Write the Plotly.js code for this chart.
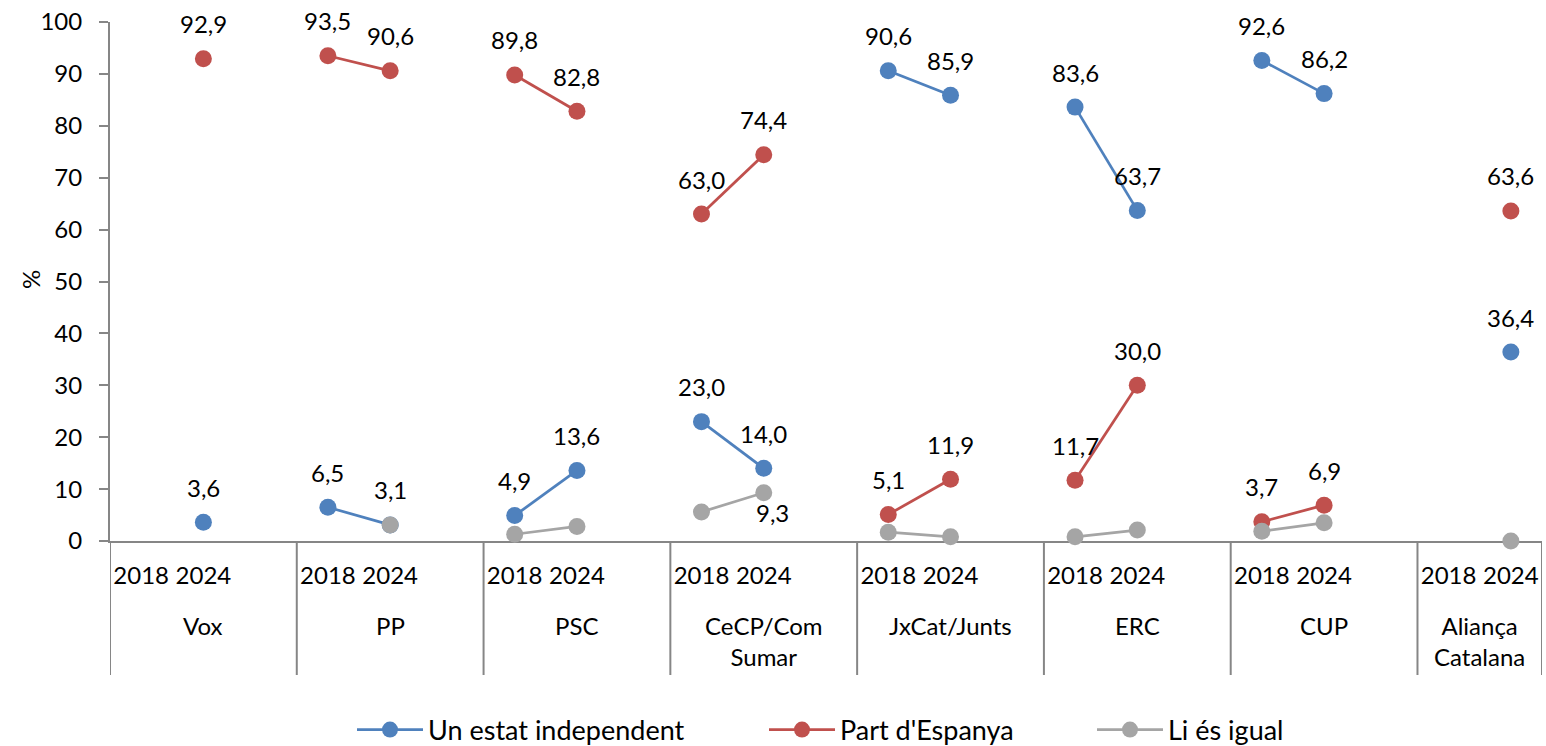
<!DOCTYPE html>
<html>
<head>
<meta charset="utf-8">
<script src="https://cdn.plot.ly/plotly-3.0.1.min.js"></script>
<style>
html,body{margin:0;padding:0;background:#fff;}
#chart{width:1546px;height:746px;}
</style>
</head>
<body>
<div id="chart"></div>
<script>
// ---- data ----
var parties = ["Vox", "PP", "PSC", "CeCP/Com<br>Sumar", "JxCat/Junts", "ERC", "CUP", "Aliança<br>Catalana"];
var years = ["2018", "2024"];
// values per party, ordered [2018, 2024]
var independent = [null, 3.6, 6.5, 3.1, 4.9, 13.6, 23.0, 14.0, 90.6, 85.9, 83.6, 63.7, 92.6, 86.2, null, 36.4];
var espanya     = [null, 92.9, 93.5, 90.6, 89.8, 82.8, 63.0, 74.4, 5.1, 11.9, 11.7, 30.0, 3.7, 6.9, null, 63.6];
var igual       = [null, null, null, 3.1, 1.3, 2.8, 5.6, 9.3, 1.7, 0.8, 0.8, 2.1, 1.9, 3.5, null, 0.0];
var igualLabelled = [7]; // only "9,3" is labelled
var seriesNames = ["Un estat independent", "Part d'Espanya", "Li és igual"];
var yTitle = "%";
var colors = ["#4F81BD", "#C0504D", "#A5A5A5"];

// ---- build category positions: 2018, 2024, blank slot per party ----
function buildXY(vals) {
  var xs = [], ys = [];
  for (var p = 0; p < parties.length; p++) {
    for (var k = 0; k < years.length; k++) {
      xs.push(3 * p + k);
      ys.push(vals[p * years.length + k]);
    }
    if (p < parties.length - 1) { xs.push(3 * p + 2); ys.push(null); }
  }
  return {x: xs, y: ys};
}
function posOf(idx) {
  var p = Math.floor(idx / years.length), k = idx % years.length;
  return 3 * p + k;
}
function fmt(v) { return v.toFixed(1).replace('.', ','); }

var FONT = "Lato, 'Open Sans', sans-serif";
var L = 110, R = 1542, T = 22, B = 541, W = 1546, H = 746;
var plotW = R - L, plotH = B - T;
function px2paperX(px) { return (px - L) / plotW; }
function px2paperY(py) { return (B - py) / plotH; }

var legendNames = ['legend', 'legend2', 'legend3'];
var legendStartPx = [352, 764, 1092];

var allVals = [independent, espanya, igual];
var traces = allVals.map(function (vals, s) {
  var xy = buildXY(vals);
  return {
    type: 'scatter', mode: 'lines+markers', name: seriesNames[s],
    x: xy.x, y: xy.y, connectgaps: false, cliponaxis: false,
    line: {color: colors[s], width: 2.75},
    marker: {color: colors[s], size: 17},
    legend: legendNames[s],
    hoverinfo: 'skip'
  };
});

// divider positions (category units)
var dividers = [];
for (var p = 0; p < parties.length; p++) dividers.push(3 * p - 0.5);
dividers.push(3 * (parties.length - 1) + 1.5);

var annotations = [];
[independent, espanya].forEach(function (vals) {
  vals.forEach(function (v, i) {
    if (v === null) return;
    annotations.push({x: posOf(i), y: v, xref: 'x', yref: 'y', text: fmt(v), showarrow: false,
      yshift: 35, font: {family: FONT, size: 24, color: '#000'}});
  });
});
igualLabelled.forEach(function (i) {
  annotations.push({x: posOf(i), y: igual[i], xref: 'x', yref: 'y', text: fmt(igual[i]), showarrow: false,
    xshift: 9, yshift: -20, font: {family: FONT, size: 24, color: '#000'}});
});
// group labels centred between dividers
parties.forEach(function (name, p) {
  annotations.push({x: (dividers[p] + dividers[p + 1]) / 2, y: px2paperY(609), xref: 'x', yref: 'paper',
    xanchor: 'center', yanchor: 'top',
    text: name, showarrow: false, font: {family: FONT, size: 24, color: '#000'}});
});
// y axis title
annotations.push({x: px2paperX(30), y: px2paperY(280), xref: 'paper', yref: 'paper', text: yTitle,
  xanchor: 'center', yanchor: 'middle',
  textangle: -90, showarrow: false, font: {family: FONT, size: 24, color: '#000'}});

var shapes = dividers.map(function (xd) {
  return {type: 'line', xref: 'x', yref: 'paper', x0: xd, x1: xd, y0: 0, y1: px2paperY(675),
    line: {color: '#868686', width: 2}};
});

var tickvals = [], ticktext = [];
for (var p2 = 0; p2 < parties.length; p2++) {
  for (var k2 = 0; k2 < years.length; k2++) { tickvals.push(3 * p2 + k2); ticktext.push(years[k2]); }
}

var layout = {
  width: W, height: H,
  margin: {l: L, r: W - R, t: T, b: H - B, autoexpand: false},
  paper_bgcolor: '#fff', plot_bgcolor: '#fff',
  separators: ',.',
  font: {family: FONT, size: 24, color: '#000'},
  showlegend: true,
  xaxis: {
    range: [-0.5, 22.5], showgrid: false, zeroline: false, showline: true, linecolor: '#868686', linewidth: 2,
    tickvals: tickvals, ticktext: ticktext, ticks: '', ticklabelstandoff: 12,
    tickfont: {family: FONT, size: 24, color: '#000'}, layer: 'below traces', fixedrange: true
  },
  yaxis: {
    range: [0, 100], dtick: 10, tick0: 0, showgrid: false, zeroline: false, showline: true,
    linecolor: '#868686', linewidth: 2, ticks: 'outside', ticklen: 9, tickwidth: 2, tickcolor: '#868686',
    tickfont: {family: FONT, size: 24, color: '#000'}, ticklabelstandoff: 12,
    layer: 'below traces', fixedrange: true
  },
  annotations: annotations,
  shapes: shapes
};
legendNames.forEach(function (ln, s) {
  layout[ln] = {orientation: 'h', x: px2paperX(legendStartPx[s]), xanchor: 'left',
    y: px2paperY(730), yanchor: 'middle', bgcolor: 'rgba(0,0,0,0)',
    font: {family: FONT, size: 27, color: '#000'}, itemwidth: 66};
});

Plotly.newPlot('chart', traces, layout, {displayModeBar: false, staticPlot: true});
</script>
</body>
</html>
